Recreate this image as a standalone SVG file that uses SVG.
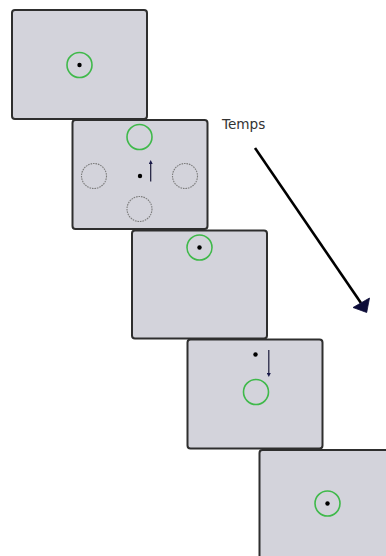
<svg xmlns="http://www.w3.org/2000/svg" width="386" height="556" viewBox="0 0 386 556">
  <style>
    .screen { fill: #d3d3db; stroke: #2e2e2e; stroke-width: 2; }
    .target { fill: none; stroke: #3fb94a; stroke-width: 1.6; }
    .ghost { fill: none; stroke: #7c7c7c; stroke-width: 1.1; stroke-dasharray: 1.6 0.9; }
    .fix { fill: #000; }
    .cue { stroke: #1a1a3a; stroke-width: 1.2; fill: none; }
    .label { font-family: "DejaVu Sans", Verdana, sans-serif; font-size: 13.6px; fill: #333; }
  </style>
  <defs>
    <marker id="cueHead" viewBox="0 0 6 6" refX="3" refY="3" markerWidth="4" markerHeight="4" markerUnits="userSpaceOnUse" orient="auto">
      <path d="M0,0 L6,3 L0,6 z" fill="#1a1a4a"/>
    </marker>
  </defs>

  <!-- screen 1: fixation inside target -->
  <g id="screen1">
    <rect class="screen" x="12" y="10" width="135" height="109" rx="3"/>
    <circle class="target" cx="79.5" cy="65" r="12.5"/>
    <circle class="fix" cx="79.5" cy="65" r="2.2"/>
  </g>

  <!-- screen 2: four placeholders, cue pointing up -->
  <g id="screen2">
    <rect class="screen" x="72.5" y="120" width="135" height="109" rx="3"/>
    <circle class="target" cx="139.5" cy="137" r="12.5"/>
    <circle class="ghost" cx="94" cy="176" r="12.5"/>
    <circle class="ghost" cx="185" cy="176" r="12.5"/>
    <circle class="ghost" cx="139.5" cy="209" r="12.5"/>
    <circle class="fix" cx="140" cy="176" r="2.2"/>
    <line class="cue" x1="150.7" y1="181.5" x2="150.7" y2="162" marker-end="url(#cueHead)"/>
  </g>

  <!-- screen 3: target at top -->
  <g id="screen3">
    <rect class="screen" x="132" y="230.5" width="135" height="108" rx="3"/>
    <circle class="target" cx="199.5" cy="247.5" r="12.5"/>
    <circle class="fix" cx="199.5" cy="247.5" r="2.2"/>
  </g>

  <!-- screen 4: cue pointing down -->
  <g id="screen4">
    <rect class="screen" x="187.5" y="339.5" width="135" height="109" rx="3"/>
    <circle class="fix" cx="255.5" cy="354.5" r="2.2"/>
    <line class="cue" x1="268.8" y1="350" x2="268.8" y2="375" marker-end="url(#cueHead)"/>
    <circle class="target" cx="256" cy="392" r="12.5"/>
  </g>

  <!-- screen 5: partly off the right/bottom edge -->
  <g id="screen5">
    <rect class="screen" x="259.5" y="450" width="135" height="109" rx="3"/>
    <circle class="target" cx="327.5" cy="503.5" r="12.5"/>
    <circle class="fix" cx="327.5" cy="503.5" r="2.2"/>
  </g>

  <!-- time axis -->
  <g id="connectors">
    <line x1="255" y1="148" x2="361" y2="303" stroke="#000" stroke-width="2.6"/>
    <polygon points="353,307.5 369.5,298 366.7,312.5" fill="#0c0c38" stroke="#0c0c38" stroke-width="0.8" stroke-linejoin="round"/>
  </g>
  <text class="label" x="222" y="129">Temps</text>
</svg>
